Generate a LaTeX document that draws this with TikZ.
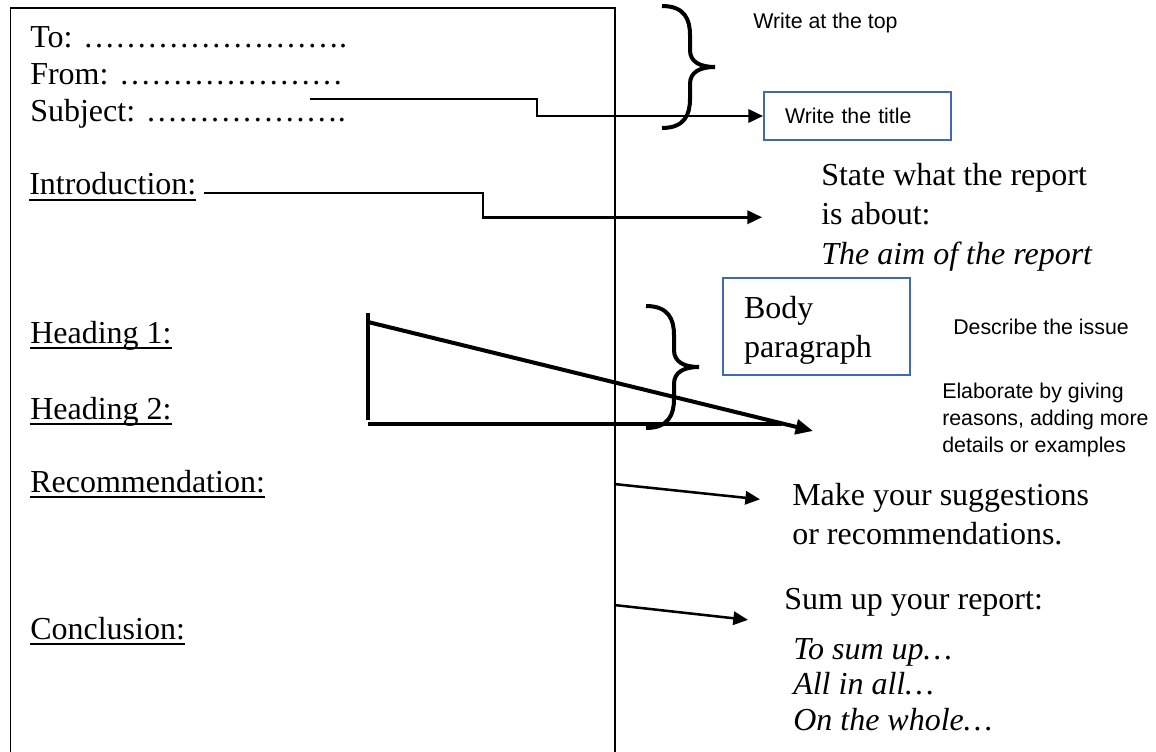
\documentclass[tikz,border=0pt]{standalone}
\usepackage{fontspec}
\setmainfont{Liberation Serif}
\setsansfont{Liberation Sans}
\usetikzlibrary{arrows.meta, positioning, calc}
\definecolor{boxblue}{RGB}{65,105,175}
\newcommand{\hd}[1]{\setbox0\hbox{#1}\rlap{\rule[-4.5pt]{\wd0}{1.5pt}}\box0}
\newcommand{\dotsrow}[1]{\foreach \k in {1,...,#1}{…}}

\begin{document}
\begin{tikzpicture}[
    x=0.75pt, y=-0.75pt,
    every node/.style={inner sep=0pt},
    serif/.style={font=\fontsize{24}{29.6}\selectfont},
    note/.style={font=\sffamily\fontsize{16}{20}\selectfont},
    heading/.style={serif, anchor=base west},
    sheet/.style={draw, line width=1.3pt, minimum width=453.4pt, minimum height=600pt, anchor=north west},
    bluebox/.style={draw=boxblue, line width=1.5pt, align=left, anchor=north west, inner xsep=15.75pt, text width=108.75pt},
    conn/.style={draw, line width=1.9pt, -{Triangle[length=11pt, width=10pt]}},
    thickbar/.style={draw, line width=3pt},
    curly/.style={draw, line width=3pt},
  ]
  \useasboundingbox (0,0) rectangle (1156,752);

  % Report sheet
  \node[sheet] (report) at (9.5,7) {};

  % Left column
  \node[heading] (to) at (30,48) {To: \dotsrow{8}.};
  \node[heading] (from) at (30,85) {From: \dotsrow{7}};
  \node[heading] (subject) at (30,122) {Subject: \dotsrow{6}.};
  \node[heading] (intro) at (29,195) {\hd{Introduction:}};
  \node[heading] (head1) at (30,343) {\hd{Heading 1:}};
  \node[heading] (head2) at (30,419) {\hd{Heading 2:}};
  \node[heading] (recom) at (30,492) {\hd{Recommendation:}};
  \node[heading] (concl) at (30,639) {\hd{Conclusion:}};

  % Notes
  \node[note, anchor=west] (top) at (753,22.5) {Write at the top};
  \node[bluebox, note, minimum height=36pt] (title) at (763,91) {Write the title};
  \node[serif, align=left, anchor=north west] (state) at (821,163) {State what the report\\is about:\\\textit{The aim of the report}};
  \node[bluebox, serif, minimum height=72.75pt] (body) at (722,277) {\rule{0pt}{22.5pt}Body\\paragraph};
  \node[note, anchor=west] (describe) at (953,327) {Describe the issue};
  \node[note, align=left, anchor=north west] (elaborate) at (942,383) {Elaborate by giving\\reasons, adding more\\details or examples};
  \node[serif, align=left, anchor=north west] (make) at (792,483) {Make your suggestions\\or recommendations.};
  \node[heading] (sumup) at (784,609) {Sum up your report:};
  \node[align=left, anchor=north west, font=\fontsize{24}{26.6}\selectfont\itshape] (phrases) at (793,638) {To sum up…\\All in all…\\On the whole…};

  % Braces
  \foreach \bx/\by in {662/6, 646/306} {
    \draw[curly, shift={(\bx,\by)}] (0,0) .. controls (23,0) and (28,14) .. (28,29) -- (28,44)
      .. controls (28,56) and (38,61) .. (53,61) .. controls (38,61) and (28,66) .. (28,78)
      -- (28,93) .. controls (28,108) and (23,122) .. (0,122);
  }

  % Connectors
  \coordinate (subjline) at (310,99);
  \coordinate (subjbend) at (537,115);
  \coordinate (introline) at (204,193);
  \coordinate (introbend) at (483,219);
  \coordinate (recout) at (614,484);
  \coordinate (conclout) at (614,605);
  \draw[conn] (subjline) -| (subjbend |- title.west) -- (title.west);
  \draw[conn] (introline) -| (introbend |- state.west) -- ([xshift=-44.25pt]state.west);
  \draw[conn] (recout) -- ([shift={(-32,-15)}]make.west);
  \draw[conn] (conclout) -- ([shift={(-36,18)}]sumup.west);

  % Body lines
  \coordinate (vtop) at (368,313);
  \coordinate (vbot) at (368,420);
  \coordinate (hend) at (782,424);
  \coordinate (diag) at (368,322);
  \coordinate (diagtip) at (813,431);
  \draw[thickbar] (vtop) -- (vbot);
  \draw[thickbar] (vbot |- hend) -- (hend);
  \draw[thickbar, -{Triangle[length=13pt, width=11pt]}] (diag) -- (diagtip);
\end{tikzpicture}
\end{document}
